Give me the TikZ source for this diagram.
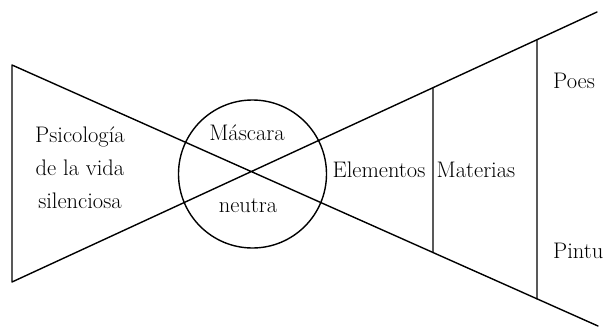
\documentclass[tikz,border=0pt]{standalone}
\usetikzlibrary{calc}
\begin{document}
\begin{tikzpicture}[x=1pt,y=-1pt,font=\fontsize{22.5}{33}\selectfont,
    edge/.style={line width=1.4pt,line cap=round,line join=round},
    lbl/.style={inner sep=0pt,anchor=base}]
  \useasboundingbox (0,0) rectangle (605,327);
  % corners of the two wedges
  \coordinate (tl) at (12,65);
  \coordinate (bl) at (12,282);
  \coordinate (tr) at (597,12);
  \coordinate (br) at (598,326);
  \coordinate (t1) at ($(bl)!0.7197!(tr)$);
  \coordinate (b1) at ($(tl)!0.7184!(br)$);
  \coordinate (t2) at ($(bl)!0.8974!(tr)$);
  \coordinate (b2) at ($(tl)!0.8959!(br)$);
  \draw[edge] (br) -- (tl) -- (bl) -- (tr);
  \draw[edge] (t1) -- (b1);
  \draw[edge] (t2) -- (b2);
  \node[circle,draw,line width=1.4pt,minimum size=148pt,inner sep=0pt] (mask) at (252.5,174) {};
  % labels
  \node[inner sep=0pt,align=center] (psico) at (80,168) {Psicología\\de la vida\\silenciosa};
  \node[lbl] (masc) at (247,140) {Máscara};
  \node[lbl] (neut) at (248,212) {neutra};
  \node[lbl] (elem) at (379,177) {Elementos};
  \node[lbl] (mat) at (476,177) {Materias};
  \node[lbl,anchor=base west] (poes) at (553,88) {Poes};
  \node[lbl,anchor=base west] (pint) at (553,258) {Pintu};
\end{tikzpicture}
\end{document}
